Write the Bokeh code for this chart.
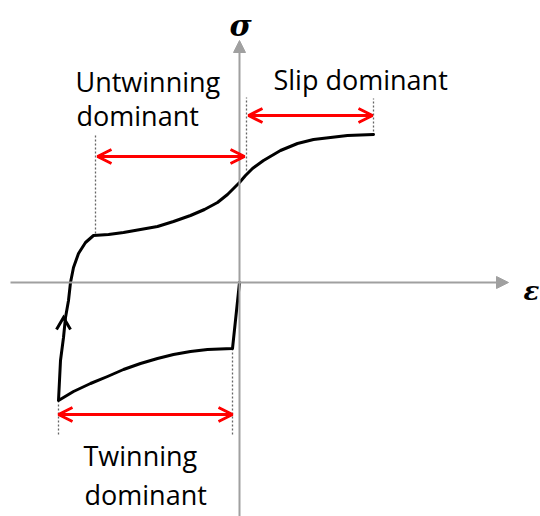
from bokeh.plotting import figure
from bokeh.models import Arrow, OpenHead, NormalHead
from bokeh.core.properties import value
from bokeh.embed import file_html
from bokeh.resources import INLINE

# ---- data (schematic strain / stress units, origin at axes crossing) ----
loop_strain = [0, -7, -32, -49, -66, -82, -99, -116, -132, -149, -166, -181,
               -179, -176, -174, -171, -169, -166, -161, -154, -146,
               -131, -116, -99, -82, -66, -49, -35, -22, -12, -6, 0, 6, 13, 24,
               41, 58, 74, 91, 108, 134]
loop_stress = [0, -66, -67, -69, -72, -76, -81, -87, -94, -101, -109, -118,
               -78, -55, -35, -18, 0, 15, 29, 40, 47,
               48, 50, 53, 56, 61, 67, 73, 80, 88, 94, 100, 107, 114, 122,
               132, 139, 143, 145, 147, 148]

# direction marker on the reloading branch
chevron_strain = [-183, -176, -169]
chevron_stress = [-47, -35, -47]

# dominant-mechanism ranges (double arrows)
range_start = [-142, 9, -181]
range_end = [5, 133, -7]
range_level = [126, 167, -132]

# dotted guide lines
guide_x = [-144, 7, 134, -181, -7]
guide_y0 = [49, 112, 147, -118, -66]
guide_y1 = [147, 185, 184, -152, -152]

# axes extents
x_axis_span = [-229, 269]
y_axis_span = [-240, 242]

# labels
label_text = ["Untwinning", "dominant", "Slip dominant", "Twinning", "dominant"]
label_x = [-164, -163, 34, -156, -155]
label_y = [201, 167, 203, -173, -212]

sigma_label = ["σ"]
sigma_x = [1]
sigma_y = [257]
eps_label = ["ε"]
eps_x = [292]
eps_y = [-8]

# ---- figure ----
p = figure(width=540, height=516, x_range=(-239, 301), y_range=(-234, 282),
           output_backend="svg", toolbar_location=None, min_border=0)
p.axis.visible = False
p.grid.visible = False
p.outline_line_color = None
p.background_fill_color = "white"
p.border_fill_color = "white"

AX = "#a0a0a0"
p.add_layout(Arrow(end=NormalHead(size=12, fill_color=AX, line_color=AX, line_width=1),
                   x_start=x_axis_span[0], y_start=0, x_end=x_axis_span[1], y_end=0,
                   line_color=AX, line_width=2))
p.add_layout(Arrow(end=NormalHead(size=12, fill_color=AX, line_color=AX, line_width=1),
                   x_start=0, y_start=y_axis_span[0], x_end=0, y_end=y_axis_span[1],
                   line_color=AX, line_width=2))

# dotted guides
p.segment(x0=guide_x, y0=guide_y0, x1=guide_x, y1=guide_y1,
          line_color="#666666", line_width=1.3, line_dash="2 2")

# loop
p.line(loop_strain, loop_stress, line_color="black", line_width=3,
       line_join="round", line_cap="round")
p.line(chevron_strain, chevron_stress, line_color="black", line_width=3,
       line_join="miter")

# red double arrows
RED = "#ff0000"
for xs, xe, yl in zip(range_start, range_end, range_level):
    p.add_layout(Arrow(start=OpenHead(size=14, line_color=RED, line_width=3),
                       end=OpenHead(size=14, line_color=RED, line_width=3),
                       x_start=xs, y_start=yl, x_end=xe, y_end=yl,
                       line_color=RED, line_width=3))

# labels
p.text(x=label_x, y=label_y, text=label_text, text_font=value("Open Sans"),
       text_font_size="27px", text_color="black", text_align="left",
       text_baseline="alphabetic")

p.text(x=sigma_x, y=sigma_y, text=sigma_label,
       text_font=value("DejaVu Serif"), text_font_style="bold italic",
       text_font_size="30px", text_color="black", text_align="center",
       text_baseline="alphabetic")
p.text(x=eps_x, y=eps_y, text=eps_label,
       text_font=value("DejaVu Serif"), text_font_style="bold italic",
       text_font_size="26px", text_color="black", text_align="center",
       text_baseline="alphabetic")

open("out.html", "w").write(file_html(p, INLINE))
